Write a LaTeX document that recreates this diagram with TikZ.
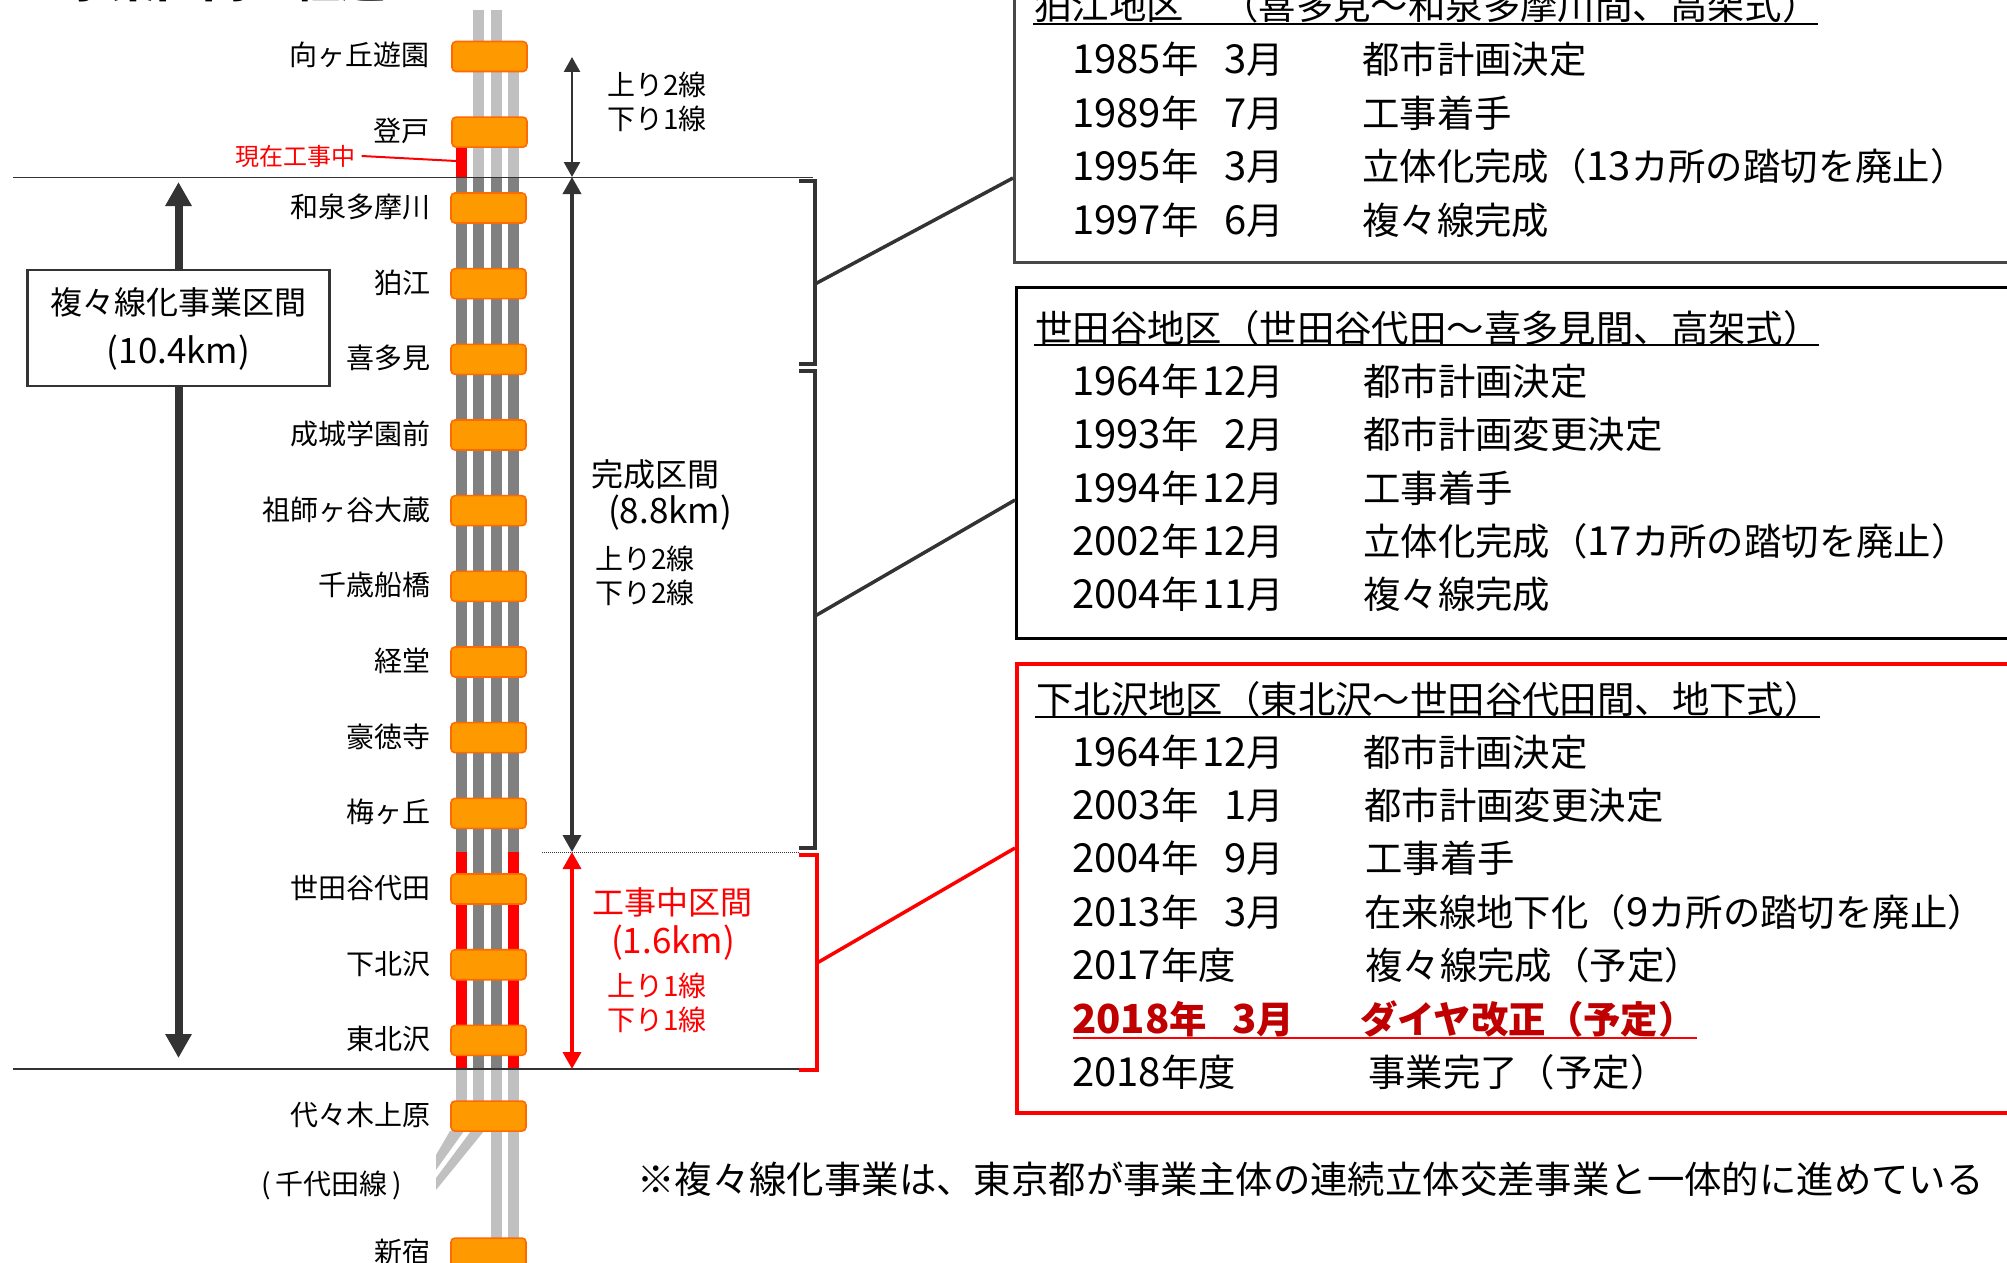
\documentclass[tikz,border=0pt]{standalone}
\usepackage{fontspec}
\setmainfont{Noto Sans CJK JP}
\usetikzlibrary{positioning}
\usetikzlibrary{arrows.meta}
\definecolor{trackdark}{HTML}{808080}
\definecolor{tracklight}{HTML}{C0C0C0}
\definecolor{stationfill}{HTML}{FF9900}
\definecolor{stationline}{HTML}{FF6A00}
\definecolor{linedark}{HTML}{333333}
\definecolor{redmark}{HTML}{FF0000}
\definecolor{redbold}{HTML}{C00000}
\newcommand{\fsz}[1]{\fontsize{#1}{#1}\selectfont}
\newcommand{\nm}[1]{{\fsz{40}#1}}
\newcommand{\dt}[2]{\makebox[212pt]{\nm{#1}年\hfill \nm{#2}月}}
\tikzset{
  x=1pt,y=1pt,
  station/.style={rectangle,rounded corners=4pt,draw=stationline,fill=stationfill,line width=1.6pt,minimum width=75pt,minimum height=30pt,inner sep=0pt},
  stnname/.style={inner sep=0pt,text height=24.6pt,text depth=5.8pt,font=\fsz{28}},
  small/.style={inner sep=0pt,text height=24.6pt,text depth=3.4pt,font=\fsz{28},anchor=west},
  label32/.style={inner sep=0pt,text height=28pt,text depth=4pt,font=\fsz{32}},
  label36/.style={inner sep=0pt,text height=28pt,text depth=4pt,font=\fsz{35}},
  rowtext/.style={inner sep=0pt,text height=32.5pt,text depth=4.5pt,font=\fsz{37.4},anchor=west},
  hotrow/.style={rowtext,text=redbold,font=\fsz{37.4}\bfseries},
  infobox/.style={rectangle,draw,fill=white,anchor=north west,inner sep=0pt},
  lighttrack/.style={draw=tracklight,line width=11pt},
  darktrack/.style={draw=trackdark,line width=11pt},
  redtrack/.style={draw=redmark,line width=11pt},
  bracket/.style={draw=linedark,line width=3.5pt,miter limit=10},
  span big/.style={draw=linedark,line width=8pt,-{Triangle[width=25pt,length=24pt]}},
  span mid/.style={draw=linedark,line width=3.5pt,{Triangle[width=18pt,length=17pt]}-{Triangle[width=18pt,length=17pt]}},
  span small/.style={draw=linedark,line width=2.5pt,{Triangle[width=16pt,length=15pt]}-{Triangle[width=16pt,length=15pt]}},
  span red/.style={draw=redmark,line width=3.5pt,{Triangle[width=18pt,length=17pt]}-{Triangle[width=18pt,length=17pt]}},
}
\begin{document}
\begin{tikzpicture}[node distance=75.67pt]
  \useasboundingbox (0,0) rectangle (2007,-1263);
  \clip (0,0) rectangle (2007,-1263);

  \node[inner sep=0pt,text height=40.5pt,text depth=5.5pt,font=\fsz{46}\bfseries,anchor=west] (pageTitle) at (64,19.5) {事業区間と経過};

  % tracks
  \draw[lighttrack] (478.5,-10) -- (478.5,-177);
  \draw[lighttrack] (496.5,-10) -- (496.5,-177);
  \draw[lighttrack] (513.5,-60) -- (513.5,-177);
  \draw[redtrack] (461,-140) -- (461,-177);
  \draw[darktrack] (461,-177) -- (461,-852);
  \draw[darktrack] (478.5,-177) -- (478.5,-1069);
  \draw[darktrack] (496.5,-177) -- (496.5,-1069);
  \draw[darktrack] (513.5,-177) -- (513.5,-852);
  \draw[redtrack] (461,-852) -- (461,-1069);
  \draw[redtrack] (513.5,-852) -- (513.5,-1069);
  \draw[lighttrack] (461,-1069) -- (461,-1131);
  \draw[lighttrack] (478.5,-1069) -- (478.5,-1131);
  \draw[lighttrack] (496.5,-1069) -- (496.5,-1245);
  \draw[lighttrack] (513.5,-1069) -- (513.5,-1245);
  \fill[tracklight] (450,-1131) -- (464,-1131) -- (436,-1170) -- (436,-1155) -- cycle;
  \fill[tracklight] (471,-1131) -- (484,-1131) -- (436,-1190) -- (436,-1178) -- cycle;

  % stations
  \node[station] (mukogaoka) at (489.5,-56.5) {};
  \node[station] (noborito) [below of=mukogaoka] {};
  \node[station] (izumi) at (488.5,-208) {};
  \node[station] (komae) [below of=izumi] {};
  \node[station] (kitami) [below of=komae] {};
  \node[station] (seijo) [below of=kitami] {};
  \node[station] (soshigaya) [below of=seijo] {};
  \node[station] (chitose) [below of=soshigaya] {};
  \node[station] (kyodo) [below of=chitose] {};
  \node[station] (gotokuji) [below of=kyodo] {};
  \node[station] (umegaoka) [below of=gotokuji] {};
  \node[station] (setagaya) [below of=umegaoka] {};
  \node[station] (shimokita) [below of=setagaya] {};
  \node[station] (higashi) [below of=shimokita] {};
  \node[station] (yoyogi) [below of=higashi] {};
  \node[station] (shinjuku) [below of=yoyogi,node distance=137pt] {};

  \node[stnname] (nMukogaoka) [left=22pt of mukogaoka] {向ヶ丘遊園};
  \node[stnname] (nNoborito) [left=22pt of noborito] {登戸};
  \node[stnname] (nIzumi) [left=20pt of izumi] {和泉多摩川};
  \node[stnname] (nKomae) [left=20pt of komae] {狛江};
  \node[stnname] (nKitami) [left=20pt of kitami] {喜多見};
  \node[stnname] (nSeijo) [left=20pt of seijo] {成城学園前};
  \node[stnname] (nSoshigaya) [left=20pt of soshigaya] {祖師ヶ谷大蔵};
  \node[stnname] (nChitose) [left=20pt of chitose] {千歳船橋};
  \node[stnname] (nKyodo) [left=20pt of kyodo] {経堂};
  \node[stnname] (nGotokuji) [left=20pt of gotokuji] {豪徳寺};
  \node[stnname] (nUmegaoka) [left=20pt of umegaoka] {梅ヶ丘};
  \node[stnname] (nSetagaya) [left=20pt of setagaya] {世田谷代田};
  \node[stnname] (nShimokita) [left=20pt of shimokita] {下北沢};
  \node[stnname] (nHigashi) [left=20pt of higashi] {東北沢};
  \node[stnname] (nYoyogi) [left=20pt of yoyogi] {代々木上原};
  \node[stnname] (nShinjuku) [left=20pt of shinjuku] {新宿};
  \node[stnname] (nChiyoda) at (332,-1185) {(\,千代田線\,)};

  % section limits
  \draw[linedark,line width=1.5pt] (13,-177.5) -- (813,-177.5);
  \draw[linedark,line width=1.5pt] (13,-1069) -- (813,-1069);
  \draw[linedark,line width=1pt,densely dotted] (542,-852) -- (799,-852);

  % spans
  \node[draw=linedark,line width=2.5pt,fill=white,minimum width=302pt,minimum height=116pt,inner sep=0pt] (project) at (178.5,-328) {};
  \coordinate (projTop) at (178.5,-182);
  \coordinate (projEnd) at (178.5,-1058);
  \draw[span big] (project.north) -- (projTop);
  \draw[span big] (project.south) -- (projEnd);
  \node[label32] (pLine1) at (178.5,-302) {複々線化事業区間};
  \node[label36] (pLine2) at (178.5,-351) {(10.4km)};

  \coordinate (aTop) at (572,-57);
  \coordinate (aLine) at (572,-177);
  \coordinate (aDone) at (572,-852);
  \coordinate (aEnd) at (572,-1069);
  \draw[span small] (aTop) -- (aLine);
  \draw[span mid] (aLine) -- (aDone);
  \draw[span red] (aDone) -- (aEnd);

  \node[small] (up21a) at (607,-85) {上り2線};
  \node[small] (up21b) at (607,-119) {下り1線};
  \node[label32,anchor=west] (doneA) at (591,-474) {完成区間};
  \node[label36] (doneB) at (670,-511) {(8.8km)};
  \node[small] (up22a) at (595,-559) {上り2線};
  \node[small] (up22b) at (595,-593) {下り2線};
  \node[label32,anchor=west,text=redmark] (workA) at (592,-902) {工事中区間};
  \node[label36,text=redmark] (workB) at (673,-941) {(1.6km)};
  \node[small,text=redmark] (up11a) at (607,-986) {上り1線};
  \node[small,text=redmark] (up11b) at (607,-1020) {下り1線};

  \node[inner sep=0pt,text height=21pt,text depth=3pt,font=\fsz{24},text=redmark] (nowWork) at (295.5,-156) {現在工事中};
  \coordinate (nowTip) at (456,-161);
  \draw[redmark,line width=2pt] (nowWork.east) ++(6pt,0) -- (nowTip);

  % brackets
  \draw[bracket] (799,-181) -- (815,-181) -- (815,-364) -- (799,-364);
  \draw[bracket] (799,-371) -- (815,-371) -- (815,-848) -- (799,-848);
  \draw[redmark,line width=3.5pt] (799,-855) -- (817,-855) -- (817,-1070) -- (799,-1070);

  % boxes
  \node[infobox,draw=linedark!90,line width=3pt,minimum width=1100pt,minimum height=298pt] (boxKomae) at (1013,37) {};
  \node[infobox,draw=black,line width=3pt,minimum width=1100pt,minimum height=351pt] (boxSetagaya) at (1015,-286) {};
  \node[infobox,draw=redmark,line width=4pt,minimum width=1100pt,minimum height=449pt] (boxShimokita) at (1015,-662) {};

  \coordinate (brKomae) at (815,-284);
  \coordinate (tipKomae) at (1013,-178);
  \coordinate (brSetagaya) at (815,-616);
  \coordinate (tipSetagaya) at (1015,-500);
  \coordinate (brShimokita) at (817,-963);
  \coordinate (tipShimokita) at (1015,-848);
  \draw[linedark,line width=3.5pt] (brKomae) -- (tipKomae);
  \draw[linedark,line width=3.5pt] (brSetagaya) -- (tipSetagaya);
  \draw[redmark,line width=3.5pt] (brShimokita) -- (tipShimokita);

  % Komae
  \node[rowtext] (kT) at (1034,-6) {狛江地区　（喜多見～和泉多摩川間、高架式）};
  \draw[black,line width=2pt] (1033,-24) -- (1818,-24);
  \node[rowtext] (kD1) at (1072,-60) {\dt{1985}{3}};
  \node[rowtext] (kE1) at (1362,-60) {都市計画決定};
  \node[rowtext] (kD2) at (1072,-113) {\dt{1989}{7}};
  \node[rowtext] (kE2) at (1362,-113) {工事着手};
  \node[rowtext] (kD3) at (1072,-166) {\dt{1995}{3}};
  \node[rowtext] (kE3) at (1362,-166) {立体化完成（\nm{13}カ所の踏切を廃止）};
  \node[rowtext] (kD4) at (1072,-220) {\dt{1997}{6}};
  \node[rowtext] (kE4) at (1362,-220) {複々線完成};

  % Setagaya
  \node[rowtext] (sT) at (1035,-328) {世田谷地区（世田谷代田～喜多見間、高架式）};
  \draw[black,line width=2pt] (1034,-345) -- (1819,-345);
  \node[rowtext] (sD1) at (1072,-381.5) {\dt{1964}{12}};
  \node[rowtext] (sE1) at (1363,-381.5) {都市計画決定};
  \node[rowtext] (sD2) at (1072,-434) {\dt{1993}{2}};
  \node[rowtext] (sE2) at (1363,-434) {都市計画変更決定};
  \node[rowtext] (sD3) at (1072,-488) {\dt{1994}{12}};
  \node[rowtext] (sE3) at (1363,-488) {工事着手};
  \node[rowtext] (sD4) at (1072,-541) {\dt{2002}{12}};
  \node[rowtext] (sE4) at (1363,-541) {立体化完成（\nm{17}カ所の踏切を廃止）};
  \node[rowtext] (sD5) at (1072,-594) {\dt{2004}{11}};
  \node[rowtext] (sE5) at (1363,-594) {複々線完成};

  % Shimokita
  \node[rowtext] (mT) at (1036,-699) {下北沢地区（東北沢～世田谷代田間、地下式）};
  \draw[black,line width=2pt] (1035,-717) -- (1820,-717);
  \node[rowtext] (mD1) at (1072,-752.5) {\dt{1964}{12}};
  \node[rowtext] (mE1) at (1363,-752.5) {都市計画決定};
  \node[rowtext] (mD2) at (1072,-805) {\dt{2003}{1}};
  \node[rowtext] (mE2) at (1364,-805) {都市計画変更決定};
  \node[rowtext] (mD3) at (1072,-858.5) {\dt{2004}{9}};
  \node[rowtext] (mE3) at (1365,-858.5) {工事着手};
  \node[rowtext] (mD4) at (1072,-912) {\dt{2013}{3}};
  \node[rowtext] (mE4) at (1364,-912) {在来線地下化（\nm{9}カ所の踏切を廃止）};
  \node[rowtext] (mD5) at (1072,-965) {\nm{2017}年度};
  \node[rowtext] (mE5) at (1365,-965) {複々線完成（予定）};
  \node[hotrow] (mD6) at (1072,-1019) {\makebox[222pt]{\nm{2018}年\hfill \nm{3}月}};
  \node[hotrow] (mE6) at (1360,-1019) {ダイヤ改正（予定）};
  \draw[redmark,line width=2pt] (1073,-1038) -- (1697,-1038);
  \node[rowtext] (mD7) at (1072,-1072.5) {\nm{2018}年度};
  \node[rowtext] (mE7) at (1368,-1072.5) {事業完了（予定）};

  \node[rowtext] (note) at (637,-1179) {※複々線化事業は、東京都が事業主体の連続立体交差事業と一体的に進めている};
\end{tikzpicture}
\end{document}
